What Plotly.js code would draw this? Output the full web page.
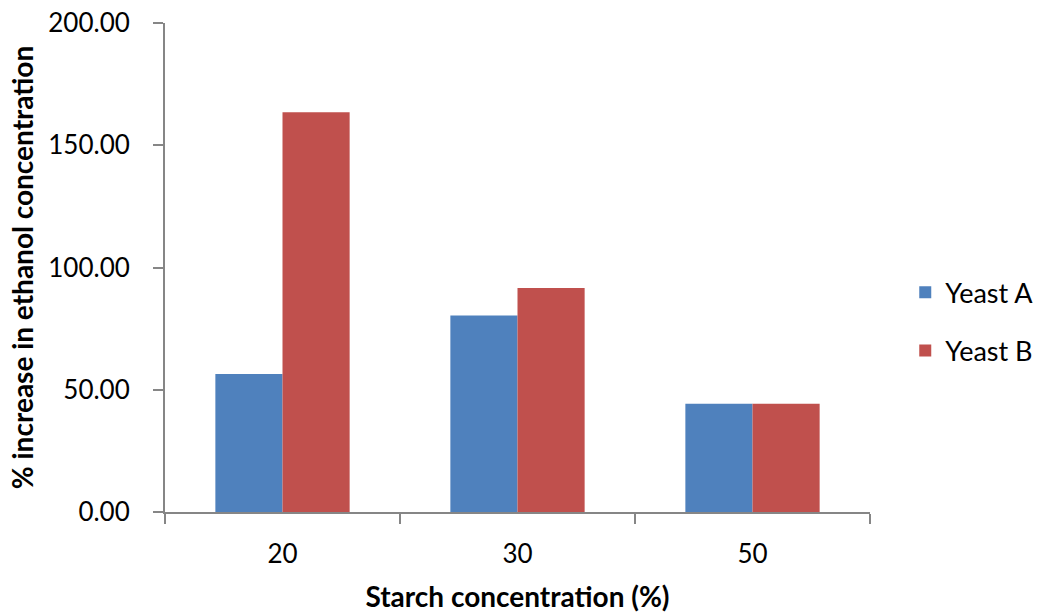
<!DOCTYPE html>
<html>
<head>
<meta charset="utf-8">
<script src="https://cdn.plot.ly/plotly-3.0.1.min.js"></script>
<style>
  html, body { margin: 0; padding: 0; background: #ffffff; }
  #chart { width: 1040px; height: 613px; }
</style>
</head>
<body>
<div id="chart"></div>
<script>
// Starch concentration groups (%)
const starchLevels = ['20', '30', '50'];
// % increase in ethanol concentration per yeast strain
const yeastA = [56.4, 80.4, 44.3];
const yeastB = [163.5, 91.6, 44.3];
const seriesNames = ['Yeast A', 'Yeast B'];
const yTicks = [0, 50, 100, 150, 200];

const FONT = 'Lato, "Open Sans", sans-serif';
const AXIS_GREY = '#868686';

const traces = [
  {
    type: 'bar',
    name: seriesNames[0],
    legendgroup: 'a',
    x: starchLevels,
    y: yeastA,
    marker: { color: '#4F81BD' },
    hoverinfo: 'x+y+name'
  },
  {
    type: 'bar',
    name: seriesNames[1],
    legendgroup: 'b',
    x: starchLevels,
    y: yeastB,
    marker: { color: '#C0504D' },
    hoverinfo: 'x+y+name'
  }
];

const layout = {
  width: 1040,
  height: 613,
  paper_bgcolor: '#ffffff',
  plot_bgcolor: '#ffffff',
  margin: { l: 165, r: 170, t: 23, b: 101, pad: 0, autoexpand: false },
  barmode: 'group',
  bargap: 0.4286,
  bargroupgap: 0,
  font: { family: FONT, color: '#000000', size: 26 },
  xaxis: {
    type: 'category',
    tickson: 'boundaries',
    ticks: 'outside',
    ticklen: 10,
    tickwidth: 2,
    tickcolor: AXIS_GREY,
    showline: true,
    linecolor: AXIS_GREY,
    linewidth: 2,
    showgrid: false,
    zeroline: false,
    ticklabelstandoff: 18,
    tickfont: { family: FONT, size: 26, color: '#000000' },
    title: {
      text: 'Starch concentration (%)',
      font: { family: FONT, size: 28, color: '#000000', weight: 'bold' },
      standoff: 21
    }
  },
  yaxis: {
    range: [0, 200],
    tickvals: yTicks,
    tickformat: '.2f',
    ticks: 'outside',
    ticklen: 10,
    tickwidth: 2,
    tickcolor: AXIS_GREY,
    showline: true,
    linecolor: AXIS_GREY,
    linewidth: 2,
    showgrid: false,
    zeroline: false,
    ticklabelstandoff: 18,
    tickfont: { family: FONT, size: 26, color: '#000000' },
    title: {
      text: '% increase in ethanol concentration',
      font: { family: FONT, size: 28, color: '#000000', weight: 'bold' },
      standoff: 6
    }
  },
  showlegend: true,
  legend: {
    x: 1.05,
    xanchor: 'left',
    y: 0.389,
    yanchor: 'middle',
    font: { family: FONT, size: 27, color: '#000000' },
    tracegroupgap: 20,
    itemwidth: 30,
    bgcolor: 'rgba(0,0,0,0)'
  }
};

Plotly.newPlot('chart', traces, layout, { displayModeBar: false, staticPlot: true });
</script>
</body>
</html>
